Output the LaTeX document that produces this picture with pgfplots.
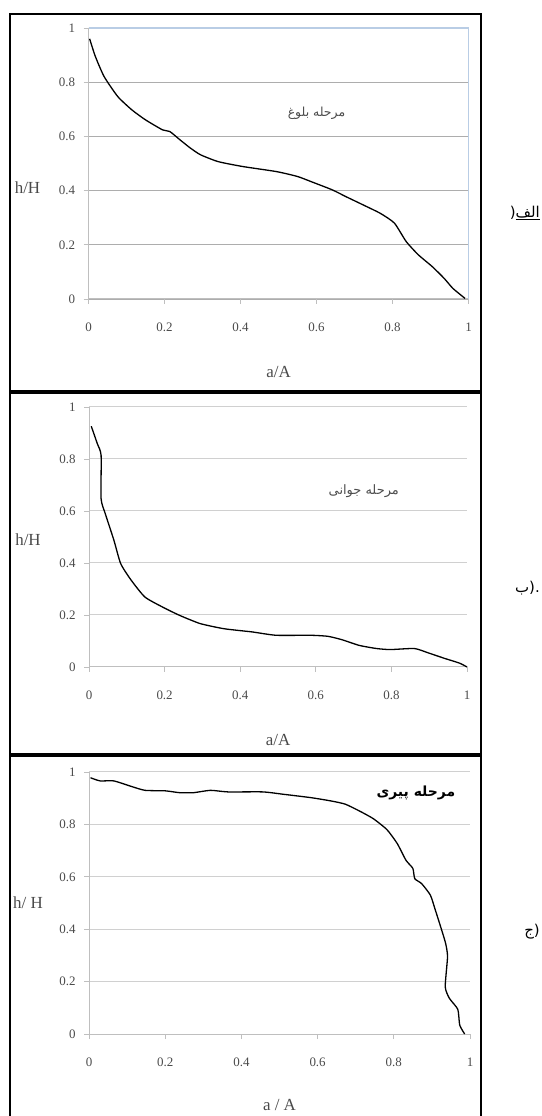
\documentclass[border=0pt]{standalone}
\usepackage{pgfplots}
\pgfplotsset{compat=1.18}
\usepackage{fontspec}
\setmainfont{Liberation Serif}
\newfontfamily\arabicfont[Script=Arabic]{DejaVu Sans}
\TeXXeTstate=1
\definecolor{gridc}{HTML}{D0D0D0}
\definecolor{axc}{HTML}{BFBFBF}
\definecolor{tickc}{HTML}{4A4A4A}
\definecolor{bluec}{HTML}{B9CDE5}
\pgfplotsset{
  panel/.style={
    scale only axis, xmin=0, xmax=1, ymin=0, ymax=1,
    axis lines=left, axis line style={-, draw=axc, line width=1bp},
    xtick={0,0.2,0.4,0.6,0.8,1}, xticklabels={0,0.2,0.4,0.6,0.8,1},
    ytick={0,0.2,0.4,0.6,0.8,1}, yticklabels={0,0.2,0.4,0.6,0.8,1},
    tick align=outside, major tick length=5bp,
    tick style={draw=axc, line width=0.8bp},
    ymajorgrids, grid style={draw=gridc, line width=1bp},
    tick label style={font=\fontsize{13}{15}\selectfont, text=tickc},
    xticklabel style={yshift=-15bp},
    yticklabel style={xshift=-5bp},
    every axis x label/.style={at={(axis description cs:0.5,0)}, anchor=center, yshift=-73bp, font=\fontsize{17}{19}\selectfont, text=tickc},
    every axis y label/.style={at={(axis description cs:0,0.5)}, anchor=center, xshift=-61bp, font=\fontsize{17}{19}\selectfont, text=tickc},
    clip=false,
  },
  curve/.style={black, line width=1.3bp, smooth, tension=0.35, mark=none},
}
\begin{document}
\begin{tikzpicture}
\useasboundingbox (0,0) rectangle (542bp,1116bp);
% Panel 1
\begin{axis}[panel, width=380bp, height=271bp, anchor=south west, at={(88.5bp,817bp)},
  xlabel={a/A}, ylabel={h/H},
  every axis y label/.append style={at={(axis description cs:0,0.41)}},
  grid style={draw=black!32, line width=1.2bp}]
\draw[bluec, line width=1.3bp] (rel axis cs:0,1) -- (rel axis cs:1,1) -- (rel axis cs:1,0);
\addplot[curve] coordinates {
(0.003,0.96) (0.018,0.895) (0.041,0.821) (0.077,0.747) (0.114,0.698) (0.15,0.661)
(0.195,0.624) (0.214,0.618) (0.241,0.587) (0.268,0.557) (0.295,0.532) (0.341,0.507)
(0.405,0.489) (0.495,0.470) (0.55,0.452) (0.586,0.433) (0.641,0.403) (0.677,0.378)
(0.723,0.347) (0.768,0.316) (0.805,0.280) (0.836,0.212) (0.868,0.163) (0.905,0.119)
(0.936,0.076) (0.959,0.039) (0.991,0.002)};
\node[font=\arabicfont\fontsize{12.5}{14}\selectfont, text=black!70] at (axis cs:0.6,0.686) {\beginR مرحله بلوغ\endR};
\end{axis}
% Panel 2
\begin{axis}[panel, width=378bp, height=260bp, anchor=south west, at={(89bp,449bp)},
  xlabel={a/A}, ylabel={h/H},
  every axis y label/.append style={at={(axis description cs:0,0.49)}}]
\addplot[curve] coordinates {
(0.006,0.926) (0.022,0.859) (0.032,0.814) (0.032,0.647) (0.043,0.590) (0.066,0.487)
(0.084,0.397) (0.112,0.333) (0.148,0.269) (0.194,0.231) (0.239,0.199) (0.294,0.167)
(0.358,0.147) (0.431,0.135) (0.495,0.122) (0.587,0.122) (0.632,0.118) (0.669,0.105)
(0.715,0.083) (0.761,0.071) (0.797,0.067) (0.861,0.071) (0.898,0.054) (0.943,0.032)
(0.980,0.015) (1.0,0.0)};
\node[font=\arabicfont\fontsize{13}{15}\selectfont, text=black!70] at (axis cs:0.727,0.677) {\beginR مرحله جوانی\endR};
\end{axis}
% Panel 3
\begin{axis}[panel, width=381bp, height=262bp, anchor=south west, at={(89bp,82bp)},
  xlabel={a / A}, ylabel={h/ H},
  every axis x label/.append style={yshift=2bp}]
\addplot[curve] coordinates {
(0.004,0.978) (0.029,0.966) (0.065,0.966) (0.111,0.945) (0.147,0.930) (0.201,0.928)
(0.238,0.921) (0.274,0.921) (0.319,0.930) (0.365,0.924) (0.456,0.924) (0.510,0.915)
(0.583,0.902) (0.637,0.889) (0.673,0.877) (0.710,0.851) (0.746,0.822) (0.782,0.780)
(0.809,0.727) (0.832,0.663) (0.850,0.632) (0.855,0.593) (0.873,0.574) (0.896,0.530)
(0.909,0.473) (0.923,0.409) (0.936,0.346) (0.941,0.295) (0.935,0.180) (0.946,0.136)
(0.968,0.094) (0.973,0.034) (0.986,0.0)};
\node[font=\arabicfont\bfseries\fontsize{14}{16}\selectfont] at (axis cs:0.858,0.92) {\beginR مرحله پیری\endR};
\end{axis}
% Frame
\draw[line width=2bp] (10bp,-5bp) -- (10bp,1102bp) -- (481bp,1102bp) -- (481bp,-5bp);
\draw[line width=4bp] (10bp,724bp) -- (481bp,724bp);
\draw[line width=3.5bp] (10bp,361bp) -- (481bp,361bp);
% side labels
\node[anchor=east, font=\arabicfont\fontsize{15}{17}\selectfont, inner sep=0pt] at (540bp,903bp) {(\underline{الف}};
\node[anchor=east, font=\arabicfont\fontsize{15}{17}\selectfont, inner sep=0pt] at (540bp,528bp) {.(ب};
\node[anchor=east, font=\arabicfont\fontsize{15}{17}\selectfont, inner sep=0pt] at (540bp,184bp) {(ج};
\end{tikzpicture}
\end{document}
